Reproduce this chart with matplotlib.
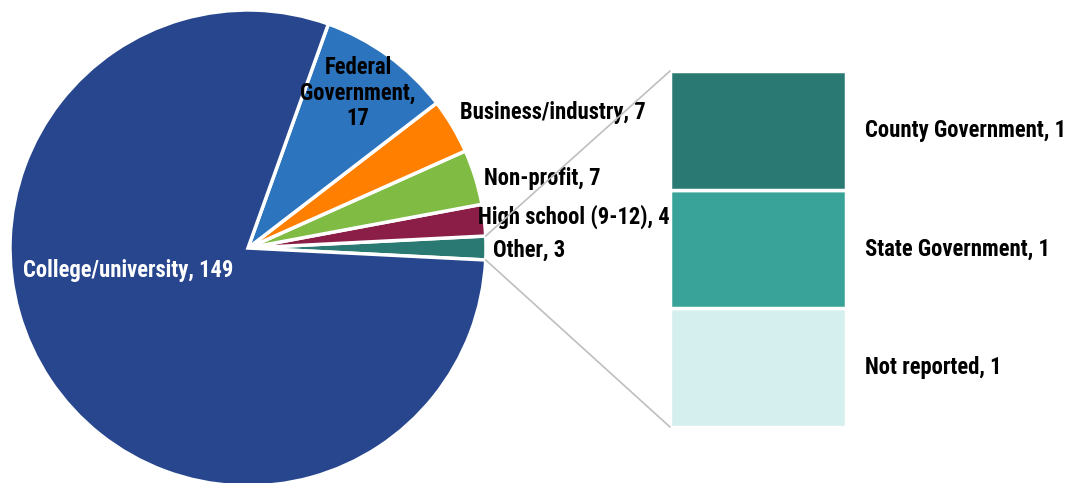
import matplotlib
import numpy as np
from matplotlib import pyplot as plt
from matplotlib.patches import ConnectionPatch

matplotlib.use("Agg")

plt.rcParams["font.family"] = ["Roboto Condensed", "DejaVu Sans"]
plt.rcParams["font.weight"] = "bold"

# pie slices, counter-clockwise starting from "Other"
PIE_LABELS = ["Other", "High school (9-12)", "Non-profit", "Business/industry",
              "Federal\nGovernment", "College/university"]
PIE_VALUES = [3, 4, 7, 7, 17, 149]
PIE_COLORS = ["#2A7A73", "#8B1E47", "#80BB44", "#FF8000", "#2C74BE", "#27468E"]

# breakdown of "Other", top to bottom
BAR_LABELS = ["County Government", "State Government", "Not reported"]
BAR_VALUES = [1, 1, 1]
BAR_COLORS = ["#2A7A73", "#39A39A", "#D5EEEE"]

W, H = 1076, 483
fig = plt.figure(figsize=(W / 100, H / 100), dpi=100)
ax = fig.add_axes([0, 0, 1, 1])

cx, cy, r = 248, H - 248, 238
total = sum(PIE_VALUES)
start = -180 * PIE_VALUES[0] / total

wedges, _ = ax.pie(
    PIE_VALUES,
    colors=PIE_COLORS,
    startangle=start,
    counterclock=True,
    center=(cx, cy),
    radius=r,
    wedgeprops=dict(edgecolor="white", linewidth=2.5),
)
ax.set_xlim(0, W)
ax.set_ylim(0, H)
ax.set_aspect("equal")
ax.axis("off")

FS = 16.3
# slice labels
ax.text(23, H - 270, f"{PIE_LABELS[5]}, {PIE_VALUES[5]}", color="white",
        fontsize=FS, va="center", ha="left")
ax.text(358, H - 93, f"{PIE_LABELS[4]},\n{PIE_VALUES[4]}", fontsize=FS,
        va="center", ha="center", linespacing=1.15)
ax.text(460, H - 113, f"{PIE_LABELS[3]}, {PIE_VALUES[3]}", fontsize=FS, va="center")
ax.text(484, H - 178, f"{PIE_LABELS[2]}, {PIE_VALUES[2]}", fontsize=FS, va="center")
ax.text(478, H - 217, f"{PIE_LABELS[1]}, {PIE_VALUES[1]}", fontsize=FS, va="center")
ax.text(493, H - 250, f"{PIE_LABELS[0]}, {PIE_VALUES[0]}", fontsize=FS, va="center")

# stacked bar for the "Other" breakdown
bx = fig.add_axes([670 / W, (H - 427) / H, 176 / W, 356 / H])
bottoms = np.cumsum(BAR_VALUES[::-1]) - BAR_VALUES[::-1]
for val, bot, col, lab in zip(BAR_VALUES[::-1], bottoms, BAR_COLORS[::-1], BAR_LABELS[::-1]):
    bx.bar(0, val, bottom=bot, width=1, color=col, edgecolor="white", linewidth=2.5)
    bx.text(0.61, bot + val / 2, f"{lab}, {val}", fontsize=FS, va="center",
            ha="left", clip_on=False)
bx.set_xlim(-0.5, 0.5)
bx.set_ylim(0, sum(BAR_VALUES))
bx.axis("off")

# connector lines from the "Other" slice to the bar
a0 = np.deg2rad(start)
a1 = np.deg2rad(-start)
for ang, corner in [(a1, (-0.5, sum(BAR_VALUES))), (a0, (-0.5, 0))]:
    con = ConnectionPatch(
        xyA=(cx + r * np.cos(ang), cy + r * np.sin(ang)), coordsA=ax.transData,
        xyB=corner, coordsB=bx.transData,
        color="#BFBFBF", linewidth=1.2,
    )
    fig.add_artist(con)

fig.savefig("out.png", dpi=100)
